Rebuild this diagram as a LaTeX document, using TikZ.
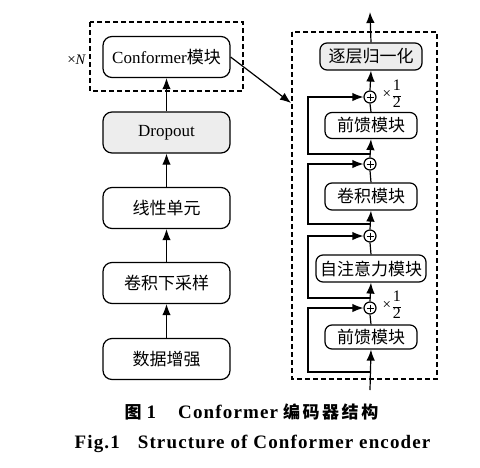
\documentclass[tikz,border=0pt]{standalone}
\usepackage{fontspec}
\setmainfont{Liberation Serif}
\newfontfamily\cjk{Noto Sans CJK SC}
\newfontfamily\capfont[LetterSpace=6]{Liberation Serif}
\newfontfamily\capcjk[LetterSpace=15]{Noto Sans CJK SC}
\usetikzlibrary{arrows.meta}
\newcommand{\halfmark}{{\fontsize{15}{16}\selectfont ×}\hspace{0.5pt}{\fontsize{12}{14}\selectfont$\displaystyle\frac{\hbox{\fontsize{16}{16}\selectfont 1}}{\hbox{\fontsize{16}{16}\selectfont 2}}$}}
\begin{document}
\begin{tikzpicture}[x=1pt,y=-1pt,
  line width=1.2pt,
  arr/.style={-{Latex[length=11pt,width=8.5pt]}},
  lbox/.style={draw,rounded corners=9pt,minimum width=127pt,minimum height=41pt,inner sep=0pt,font=\fontsize{17}{19}\selectfont},
  rbox/.style={draw,rounded corners=7pt,minimum width=92pt,minimum height=26pt,inner sep=0pt,font=\fontsize{17}{19}\selectfont\cjk},
  pls/.style={draw,circle,minimum size=12pt,inner sep=0pt},
  dsh/.style={dashed,dash pattern=on 5pt off 3pt}
]
\useasboundingbox (0,0) rectangle (480,467);
% left column
\draw[dsh] (90,22) rectangle (243,91);
\node[lbox] (conf) at (166.5,57) {Conformer{\cjk 模块}};
\node[lbox,fill=black!7] (drop) at (166.5,132.5) {Dropout};
\node[lbox,font=\fontsize{17}{19}\selectfont\cjk] (lin) at (166.5,208) {线性单元};
\node[lbox,font=\fontsize{17}{19}\selectfont\cjk] (cds) at (166.5,283) {卷积下采样};
\node[lbox,font=\fontsize{17}{19}\selectfont\cjk] (aug) at (166.5,359) {数据增强};
\node[anchor=east,inner sep=0pt] (xn) at (86,60) {{\fontsize{15}{16}\selectfont ×}{\fontsize{14.5}{16}\selectfont\itshape N}};
\draw[arr] (aug.north) -- (cds.south);
\draw[arr] (cds.north) -- (lin.south);
\draw[arr] (lin.north) -- (drop.south);
\draw[arr] (drop.north) -- (conf.south);
% right column
\draw[dsh] (292,32) rectangle (437,379);
\node[rbox,fill=black!7,minimum width=102pt,minimum height=27pt] (ln) at (371,56.5) {逐层归一化};
\node[rbox] (f1) at (371,125.5) {前馈模块};
\node[rbox,minimum height=27pt] (conv) at (371,196.5) {卷积模块};
\node[rbox,minimum width=110pt,minimum height=27pt] (att) at (371,268.5) {自注意力模块};
\node[rbox,minimum height=24pt] (f2) at (371,337) {前馈模块};
\node[pls] (p1) at (370,97) {};
\node[pls] (p2) at (370,164) {};
\node[pls] (p3) at (370,236) {};
\node[pls] (p4) at (370,308) {};
\foreach \p in {p1,p2,p3,p4}{
  \draw[line width=0.9pt] ([yshift=3.5pt]\p.center) -- ([yshift=-3.5pt]\p.center)
        ([xshift=-3.5pt]\p.center) -- ([xshift=3.5pt]\p.center);
}
\node[anchor=west,inner sep=0pt] (h1) at (382,94) {\halfmark};
\node[anchor=west,inner sep=0pt] (h4) at (382,305) {\halfmark};
\coordinate (in) at (370,390);
\coordinate (out) at (370,12);
\coordinate (k) at (308,0);
\coordinate (b1) at (370,154);
\coordinate (b2) at (370,224);
\coordinate (b3) at (370,298);
\coordinate (b4) at (370,372);
\draw[arr] (in) -- (f2.south);
\draw (f2.north) -- (p4.south);
\draw[arr] (p4.north) -- (att.south);
\draw (att.north) -- (p3.south);
\draw[arr] (p3.north) -- (conv.south);
\draw (conv.north) -- (p2.south);
\draw[arr] (p2.north) -- (f1.south);
\draw (f1.north) -- (p1.south);
\draw[arr] (p1.north) -- (ln.south);
\draw[arr] (ln.north) -- (out);
\draw[arr] (b1) -- (b1 -| k) |- (p1.west);
\draw[arr] (b2) -- (b2 -| k) |- (p2.west);
\draw[arr] (b3) -- (b3 -| k) |- (p3.west);
\draw[arr] (b4) -- (b4 -| k) |- (p4.west);
% link
\coordinate (dj) at (291,103);
\draw[arr] (conf.east) -- (dj);
% captions
\node[inner sep=0pt] (cap1) at (251.5,412) {{\fontsize{17}{19}\selectfont\capcjk\bfseries 图}\hspace{5pt}{\fontsize{19}{21}\selectfont\capfont\bfseries 1}\hspace{22pt}{\fontsize{19}{21}\selectfont\capfont\bfseries Conformer}\hspace{5pt}{\fontsize{17}{19}\selectfont\capcjk\bfseries 编码器结构}};
\node[inner sep=0pt,font=\fontsize{19}{21}\selectfont\bfseries\capfont] (cap2) at (252.5,444) {Fig.1\hspace{18pt}Structure of Conformer encoder};
\end{tikzpicture}
\end{document}
